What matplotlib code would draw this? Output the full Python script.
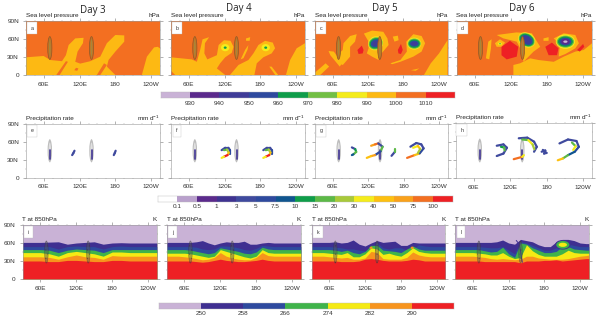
import numpy as np
import matplotlib
matplotlib.use('Agg')
import matplotlib.pyplot as plt
from matplotlib.patches import Ellipse
from matplotlib.ticker import MultipleLocator

plt.rcParams['font.family'] = ['Liberation Sans', 'DejaVu Sans']
plt.rcParams['mathtext.default'] = 'regular'
plt.rcParams['hatch.linewidth'] = 0.3

# colour bars
slp_levels = [930, 940, 950, 960, 970, 980, 990, 1000, 1010]
slp_colors = ['#c9b2d6', '#5b2a8c', '#3f3c98', '#2e4a9e', '#0f9d4a', '#72bf44',
              '#f4ec1c', '#fdb913', '#f36f21', '#ee2024']
pr_levels = [0.1, 0.5, 1, 3, 5, 7.5, 10, 15, 20, 30, 40, 50, 75, 100]
pr_colors = ['#ffffff', '#b9a0cc', '#5b2a8c', '#3f3391', '#3f4a9e', '#2e4a9e', '#10558f',
             '#0f9d4a', '#5cb947', '#a8c93a', '#f4ec1c', '#fdc010', '#f9a11b', '#f36f21', '#ee2024']
t_levels = [250, 258, 266, 274, 282, 290]
t_colors = ['#c9b2d6', '#3f2f91', '#2e4a9e', '#3fb34a', '#f5ea14', '#f7941d', '#ee2024']

day_labels = ['Day 3', 'Day 4', 'Day 5', 'Day 6']
source_lons = [70, 140]

# sea level pressure: 990-1000 hPa areas (amber), lon/lat
slp_a_amber = [
    [(30, 0), (30, 29.5), (59.6, 31.7), (70.8, 25), (90.4, 23), (97, 33), (101.6, 50), (112.7, 61),
     (126.7, 62), (125.6, 53), (116.6, 39), (112.7, 22), (121, 19), (138, 23), (154.7, 30.6), (165.8, 53),
     (180, 66.7), (195, 66), (195, 55.6), (180, 39), (168.6, 25), (165.8, 14), (180, 0)],
    [(224.5, 0), (233, 30.6), (245, 46), (251, 47), (255, 44.5), (255, 0)],
]
slp_a_holes = [
    [(80.9, 0), (86.5, 0), (100.4, 22), (97, 23)],
    [(149, 0), (154.7, 0), (165.8, 16.7), (161, 19.5)],
    [(111, 8), (114, 12), (118, 11), (116, 7)],
]
slp_b_amber = [
    [(37, 0), (30, 7), (30, 29.5), (65, 26), (73.4, 22), (79, 42), (83, 59.5), (94, 63), (87, 53), (86, 36),
     (91, 26), (107, 33), (110, 50), (119, 58), (130, 57), (135, 47), (132, 37), (121, 29.5), (112.5, 19.5),
     (107, 11), (121, 0)],
    [(129, 0), (143.3, 16.7), (160, 25), (168.4, 36), (176.8, 50), (188, 57), (200.9, 54), (204.8, 44.5),
     (199, 36), (185, 29.5), (174, 19.5), (170, 0)],
    [(195, 14), (199, 14), (210, 0), (205, 0)],
    [(156, 61), (163, 63), (162, 57), (156, 57)],
    [(147, 26), (154.5, 42), (160, 50), (158.4, 42), (151.7, 28)],
    [(223, 0), (230, 25), (241, 44.5), (255, 53), (255, 0)],
]
slp_c_amber = [
    [(30, 0), (30, 4), (48, 19.5), (54, 14), (39, 0)],
    [(53, 40), (62, 39), (76, 19.5), (72, 14), (56, 33)],
    [(68, 33), (77, 41.7), (78.4, 53), (89.6, 65), (100.8, 68), (98, 55.6), (89.6, 47), (89.6, 30.6), (77.3, 16.7), (70, 19.5)],
    [(113, 69), (127, 74), (146, 72), (153, 61), (155, 50), (143, 36), (138, 30.6), (138, 25), (127, 30.6), (118, 36), (121, 44.5), (121, 55.6), (116, 64)],
    [(158, 19.5), (175, 25), (186, 39), (185, 55.6), (197, 68), (211, 65), (217, 53), (211, 39), (197, 30.6), (175, 22), (161, 18)],
    [(162, 64), (170.7, 65.6), (172, 58), (165, 55.6)],
    [(193, 8), (207, 11), (201, 7)],
    [(215, 0), (226.6, 19.5), (240.6, 36), (255, 58), (255, 0)],
]
slp_c_red = [
    [(102, 41.7), (109.5, 49), (112.5, 41.7), (111, 36), (104, 35)],
    [(170.7, 41.7), (176, 51.7), (179, 41.7), (176, 35), (171.7, 36)],
]
slp_d_amber = [
    [(124.8, 0), (124.8, 16.7), (136, 19.5), (152.8, 27.8), (166.8, 25), (192, 22), (208.7, 30.6), (228, 39), (242, 41.7), (256, 53), (256, 0)],
    [(97, 66.7), (130, 71), (155.6, 69.5), (169.6, 47), (158.4, 39), (141.6, 22), (138.8, 39), (130.4, 55.6), (108, 61)],
    [(94, 53), (102.5, 59.5), (111, 54), (105, 47), (97, 47)],
    [(175, 61), (183.5, 63), (183.5, 57), (175, 57)],
    [(192, 61), (208.7, 69.5), (228, 66.7), (234, 53), (228, 44.5), (211.5, 35), (200.3, 30.6), (202, 47), (197.5, 55.6)],
    [(83, 55.6), (88.5, 59.5), (87.4, 44.5), (84.6, 26), (79, 27.8)],
]
slp_d_red = [
    [(105, 47), (119, 57), (133, 47), (130.4, 30.6), (113.7, 26), (105, 33)],
    [(178, 47), (189, 54), (200, 44.5), (197.5, 33), (183.5, 33)],
    [(231, 41.7), (241, 51.7), (243, 47), (235.5, 39)],
]

# lows: lon, lat, tilt, then (width, height, colour index in slp_colors) inner to outer
low_b = [(121, 45.6, 0, [(14, 12, 6), (5, 4, 4)]), (189, 45.6, 0, [(14, 12, 6), (5, 4, 4)])]
low_c = [(133, 52.8, 20, [(26, 23, 6), (24, 20, 5), (21, 17, 4), (17, 13, 3), (11, 8, 2)]),
         (198.6, 52.3, 0, [(24, 20, 6), (22, 17, 5), (19, 14, 4), (15, 10, 3), (10, 6, 2)])]
low_d = [(147, 58.4, -30, [(30, 24, 6), (28, 21, 5), (25, 19, 4), (21, 15, 3), (16, 11, 2)]),
         (211.5, 55.6, 0, [(32, 24, 6), (29, 20, 5), (25, 17, 4), (20, 13, 3), (14, 9, 1), (7, 4, 0)]),
         (102.5, 52, 0, [(7, 4, 6), (3, 1.5, 4)])]

# precipitation arcs: lon, lat, rate (mm/d)
pr_e = [
    [(107.5, 37.7, 3), (109.5, 41, 3), (111.4, 45, 5)],
    [(177.4, 37.7, 3), (179, 41, 3), (180.5, 45, 5)],
]
pr_f = [
    [(115, 46, 3), (121, 50, 3), (126.5, 50, 3), (129, 46, 5), (129, 40, 5)],
    [(119, 46, 15), (124, 47, 20), (127, 42, 40), (125, 37.7, 100), (119, 35, 30), (115, 33, 3)],
    [(185, 46, 3), (191, 50, 3), (196.5, 50, 3), (199, 46, 5), (199, 40, 5)],
    [(189, 46, 15), (194, 47, 20), (197, 42, 40), (195, 37.7, 100), (189, 35, 30), (185, 33, 3)],
]
pr_g = [
    [(92.4, 50.6, 3), (98, 47.8, 10), (99.7, 43, 15), (95, 39, 7.5), (92.4, 37.7, 3)],
    [(125, 53.4, 50), (131.6, 55.7, 75), (137, 57.4, 3), (144.4, 51.8, 15), (141, 44, 5), (131.6, 37.7, 60), (125, 36, 40), (117.6, 33, 3)],
    [(159.5, 36.5, 3), (165, 43, 15), (165, 48, 3)],
    [(185.8, 33, 75), (198.6, 37.7, 40), (207, 40.5, 5), (213.7, 49, 3), (209.8, 55.7, 3), (201.4, 58, 3), (191.4, 51.8, 3)],
    [(196, 50, 30), (204, 53, 40), (208, 48, 20), (204, 41, 10)],
]
pr_h = [
    [(98, 52.8, 3), (109, 55, 3), (114.8, 49.5, 3), (109, 40, 3), (98, 36, 3)],
    [(105, 51, 10), (110, 50, 15), (111, 45, 20)],
    [(134.3, 65, 3), (148.3, 66, 3), (159.5, 59.4, 3), (164, 51, 3), (159.5, 43, 3)],
    [(140, 63, 15), (150, 62, 30), (157, 55, 20), (160, 47, 7.5)],
    [(126, 30.8, 75), (140, 34.6, 30), (142.7, 37.4, 3)],
    [(172, 43, 3), (178, 45, 3), (176, 40, 3), (180, 41, 3), (174, 46, 3)],
    [(201.4, 56.6, 3), (215.4, 63, 3), (229.4, 60.5, 3), (233.3, 51, 5), (226.6, 43, 7.5), (215.4, 37.4, 15), (207, 32, 40), (198.6, 29, 100)],
    [(222, 58, 15), (228, 52, 30), (224, 46, 20)],
]

# T at 850 hPa: latitude of each isotherm along longitude
lon_i = [30, 45, 60, 75, 90, 105, 120, 135, 150, 165, 180, 195, 210, 225, 240, 255]
t_i = {
    250: [61, 61, 61, 61.5, 62, 58, 60, 61, 62, 58, 60, 60.5, 60, 60, 60, 60],
    258: [54, 54, 54, 54, 50, 54, 55, 54, 54, 50, 54, 55, 54, 54, 54, 54],
    266: [49, 49, 49, 48, 44, 48, 50, 49, 48, 44, 49, 49, 49, 49, 49, 49],
    274: [44, 44, 44, 42, 38, 44, 46, 44, 42, 38, 45, 45, 44, 44, 44, 44],
    282: [37, 37, 37, 36, 33, 37, 40, 37, 36, 33, 39, 38, 38, 38, 38, 38],
    290: [30, 30, 30, 29, 29, 31, 31, 30, 29, 29, 31, 31, 30, 30, 30, 30],
}
lon_fine = [30, 40, 50, 60, 70, 80, 90, 100, 110, 120, 130, 140, 150, 160, 170, 180, 190, 200, 210, 220, 230, 240, 250, 255]
t_j = {
    250: [61, 61, 61, 61, 61, 62, 64, 60, 57, 60, 62, 61, 61, 63, 58, 58, 60, 61, 60, 60, 60, 60, 60, 60],
    258: [54, 54, 54, 54, 54, 53, 50, 49, 50, 55, 55, 54, 52, 49, 48, 51, 56, 55, 54, 54, 54, 54, 54, 54],
    266: [49, 49, 49, 49, 48, 46, 44, 42, 44, 52, 50, 48, 46, 43, 42, 45, 53, 50, 49, 49, 49, 49, 49, 49],
    274: [43, 43, 43, 43, 42, 40, 38, 36, 38, 49, 46, 43, 40, 37, 35, 38, 49, 44, 43, 43, 43, 43, 43, 43],
    282: [38, 38, 38, 37, 36, 34, 32, 33, 36, 44, 38, 35, 33, 32, 32, 36, 44, 39, 38, 38, 38, 38, 38, 38],
    290: [30, 30, 30, 30, 30, 29, 28, 29, 31, 33, 31, 30, 29, 29, 30, 31, 33, 31, 30, 30, 30, 30, 30, 30],
}
t_k = {
    250: [61, 61, 61, 61, 62, 60, 61, 65, 58, 55, 60, 64, 61, 62, 63, 56, 56, 61, 60, 60, 60, 60, 60, 60],
    258: [54, 54, 54, 54, 53, 52, 50, 50, 48, 47, 52, 60, 52, 50, 52, 52, 48, 50, 57, 55, 54, 54, 54, 54],
    266: [49, 49, 49, 49, 48, 46, 48, 44, 42, 46, 56, 56, 48, 47, 46, 44, 50, 55, 50, 48, 48, 48, 48, 48],
    274: [44, 44, 44, 43, 42, 41, 44, 37, 37, 42, 52, 50, 41, 43, 40, 38, 44, 52, 46, 44, 43, 43, 43, 43],
    282: [38, 38, 38, 37, 36, 35, 36, 33, 33, 35, 46, 44, 34, 33, 33, 33, 36, 45, 40, 38, 37, 37, 37, 37],
    290: [30, 30, 30, 30, 30, 29, 29, 29, 30, 33, 34, 33, 31, 30, 30, 30, 31, 33, 32, 30, 30, 30, 30, 30],
}
t_l = {
    250: [61, 61, 61, 61, 61, 61, 61, 62, 65, 60, 58, 66, 64, 62, 57, 54, 54, 62, 66, 66, 64, 60, 59, 59],
    258: [54, 54, 54, 54, 54, 53, 52, 52, 54, 48, 42, 62, 60, 56, 52, 48, 48, 52, 60, 58, 56, 54, 54, 54],
    266: [49, 49, 49, 49, 49, 47, 45, 46, 53, 42, 36, 60, 58, 52, 48, 44, 44, 46, 54, 54, 50, 49, 48, 48],
    274: [44, 44, 44, 44, 43, 42, 40, 40, 44, 38, 34, 36, 57, 47, 41, 38, 38, 38, 42, 48, 44, 43, 43, 43],
    282: [38, 38, 38, 38, 37, 36, 34, 33, 34, 33, 32, 33, 38, 38, 35, 34, 33, 33, 33, 34, 36, 38, 39, 40],
    290: [30, 30, 30, 30, 30, 29, 29, 29, 29, 29, 29, 27, 30, 30, 30, 31, 31, 32, 30, 31, 32, 33, 34, 34],
}
front_l_lon = [133, 138, 141, 143]
front_l_lat = [64, 58, 40, 28]
swirl_l = [(211, 57, [(26, 16, 1), (22, 13, 3), (14, 7, 4)])]
swirl_k = [(130, 52, [(5, 4, 5)]), (199, 52, [(5, 4, 5)])]

fig = plt.figure(figsize=(6, 3.2), dpi=100)


def add_panel(x0, x1, y0, y1, letter, title, unit, lat_labels):
    ax = fig.add_axes([x0 / 600, 1 - y1 / 320, (x1 - x0) / 600, (y1 - y0) / 320])
    ax.set_xlim(30, 255)
    ax.set_ylim(0, 90)
    ax.set_xticks([60, 120, 180, 240])
    ax.set_xticklabels(['60E', '120E', '180', '120W'])
    ax.set_yticks([0, 30, 60, 90])
    ax.set_yticklabels(['0', '30N', '60N', '90N'] if lat_labels else [])
    ax.xaxis.set_minor_locator(MultipleLocator(15))
    ax.yaxis.set_minor_locator(MultipleLocator(15))
    ax.tick_params(which='major', length=2, width=0.4, color='#777777', labelsize=4.6,
                   labelcolor='#333333', top=True, right=True, pad=3)
    ax.tick_params(which='minor', length=1, width=0.3, color='#999999', top=True, right=True)
    for s in ax.spines.values():
        s.set_linewidth(0.4)
        s.set_color('#999999')
    fig.text(x0 / 600, 1 - (y0 - 5.5) / 320, title, fontsize=4.6, color='#222222', va='center')
    fig.text(x1 / 600, 1 - (y0 - 5.5) / 320, unit, fontsize=4.6, color='#222222', va='center', ha='right')
    ax.text(0.045, 0.87, letter, transform=ax.transAxes, fontsize=3.8, color='#333333', va='center',
            ha='center', zorder=20,
            bbox=dict(boxstyle='square,pad=0.7', fc='white', ec='#bbbbbb', lw=0.25))
    return ax


def draw_lows(ax, lows):
    for lon, lat, tilt, rings in lows:
        for w, h, c in rings:
            ax.add_patch(Ellipse((lon, lat), w, h, angle=tilt, fc=slp_colors[c], ec='none', zorder=4))


def draw_sources_slp(ax):
    for lon in source_lons:
        ax.add_patch(Ellipse((lon, 45), 7, 38, fc='#c9701f', ec='#8a5a2b', lw=0.5, zorder=5))
        ax.add_patch(Ellipse((lon, 45), 3, 30, fc='#a8863a', ec='none', zorder=5))


def draw_slp(ax, amber, red=(), holes=(), lows=()):
    ax.set_facecolor(slp_colors[8])
    for p in amber:
        ax.fill(*zip(*p), color=slp_colors[7], lw=0, zorder=2)
    for p in holes:
        ax.fill(*zip(*p), color=slp_colors[8], lw=0, zorder=3)
    for p in red:
        ax.fill(*zip(*p), color=slp_colors[9], lw=0, zorder=3)
    draw_lows(ax, lows)
    draw_sources_slp(ax)


def pr_color(rate):
    return pr_colors[int(np.searchsorted(pr_levels, rate, side='right'))]


def draw_pr(ax, arcs):
    for lon in source_lons:
        ax.add_patch(Ellipse((lon, 45), 7.5, 39, fc='#bdbdbd', ec='none', zorder=1))
        ax.add_patch(Ellipse((lon, 45), 4, 28, fc='#e0e0e0', ec='none', zorder=1))
        ax.plot([lon, lon], [31, 46], color=pr_colors[3], lw=1.2, zorder=2, solid_capstyle='round')
    for arc in arcs:
        for a, b in zip(arc[:-1], arc[1:]):
            ax.plot([a[0], b[0]], [a[1], b[1]], color=pr_color(a[2]), lw=1.6, zorder=3,
                    solid_capstyle='round')


def draw_t(ax, lons, contours):
    ax.set_facecolor(t_colors[0])
    for lev, col in zip(t_levels, t_colors[1:]):
        ax.fill_between(lons, 0, contours[lev], color=col, lw=0, zorder=2)
    for lon in source_lons:
        ax.add_patch(Ellipse((lon, 45), 6, 37, fc='#555555', ec='#333333', alpha=0.45, lw=0.4,
                             hatch='....', zorder=5))


def draw_colorbar(x0, x1, y0, y1, colors, labels):
    cax = fig.add_axes([x0 / 600, 1 - y1 / 320, (x1 - x0) / 600, (y1 - y0) / 320])
    cax.bar(range(len(colors)), 1, width=1, align='edge', color=colors, lw=0)
    cax.set_xlim(0, len(colors))
    cax.set_ylim(0, 1)
    cax.set_yticks([])
    cax.set_xticks(range(1, len(colors)))
    cax.set_xticklabels(labels)
    cax.tick_params(length=0, labelsize=4.6, labelcolor='#333333', pad=2)
    for s in cax.spines.values():
        s.set_linewidth(0.3)
        s.set_color('#bbbbbb')


# top row
slp_title = 'Sea level pressure'
ax = add_panel(26, 160, 21, 75, 'a', slp_title, 'hPa', True)
draw_slp(ax, slp_a_amber, holes=slp_a_holes)
ax = add_panel(171, 305, 21, 75, 'b', slp_title, 'hPa', False)
draw_slp(ax, slp_b_amber, lows=low_b)
ax = add_panel(315, 447.5, 21, 75, 'c', slp_title, 'hPa', False)
draw_slp(ax, slp_c_amber, red=slp_c_red, lows=low_c)
ax = add_panel(456.5, 591.5, 21, 75, 'd', slp_title, 'hPa', False)
draw_slp(ax, slp_d_amber, red=slp_d_red, lows=low_d)

# precipitation row
pr_title = 'Precipitation rate'
pr_unit = 'mm d$^{-1}$'
ax = add_panel(26, 160, 124, 177.5, 'e', pr_title, pr_unit, True)
draw_pr(ax, pr_e)
ax = add_panel(171, 305, 124, 177.5, 'f', pr_title, pr_unit, False)
draw_pr(ax, pr_f)
ax = add_panel(315, 448, 124, 177.5, 'g', pr_title, pr_unit, False)
draw_pr(ax, pr_g)
ax = add_panel(455.5, 592, 123, 178, 'h', pr_title, pr_unit, False)
draw_pr(ax, pr_h)

# temperature row
t_title = 'T at 850hPa'
ax = add_panel(22.5, 157, 225, 279, 'i', t_title, 'K', True)
draw_t(ax, lon_i, t_i)
ax = add_panel(166.5, 301, 225, 279, 'j', t_title, 'K', False)
draw_t(ax, lon_fine, t_j)
ax = add_panel(311.5, 445.5, 225, 279, 'k', t_title, 'K', False)
draw_t(ax, lon_fine, t_k)
for lon, lat, rings in swirl_k:
    for w, h, c in rings:
        ax.add_patch(Ellipse((lon, lat), w, h, fc=t_colors[c], ec='none', zorder=4))
ax = add_panel(455, 589, 225, 279, 'l', t_title, 'K', False)
draw_t(ax, lon_fine, t_l)
ax.plot(front_l_lon, front_l_lat, color=t_colors[1], lw=0.7, zorder=4)
for lon, lat, rings in swirl_l:
    for w, h, c in rings:
        ax.add_patch(Ellipse((lon, lat), w, h, fc=t_colors[c], ec='none', zorder=4))

# day labels
for label, xc, yc in zip(day_labels, [92.7, 239.3, 385, 521.7], [10, 8, 8, 8]):
    fig.text(xc / 600, 1 - yc / 320, label, fontsize=7, family=['Open Sans', 'DejaVu Sans'],
             color='#222222', ha='center', va='center')

draw_colorbar(160.5, 455, 91.7, 98.3, slp_colors, slp_levels)
draw_colorbar(157.5, 452.5, 195.7, 201.7, pr_colors, pr_levels)
draw_colorbar(159, 454, 303, 308.7, t_colors, t_levels)

fig.savefig('out.png', dpi=100)
